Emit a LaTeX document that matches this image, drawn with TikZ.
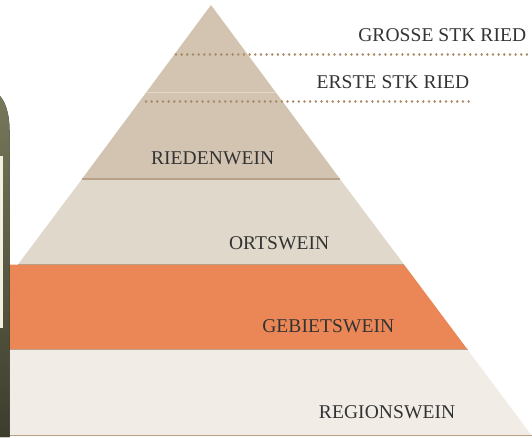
\documentclass[tikz,border=0pt]{standalone}
\usepackage{fontspec}
\setmainfont[LetterSpace=0.5]{Liberation Serif}
\usetikzlibrary{calc}
\definecolor{tierA}{HTML}{D3C4B2}
\definecolor{tierB}{HTML}{E1D8CC}
\definecolor{tierC}{HTML}{EB8757}
\definecolor{tierD}{HTML}{F1EDE6}
\definecolor{edgeC}{HTML}{B8A186}
\definecolor{dotC}{HTML}{A98A64}
\definecolor{txt}{HTML}{333333}
\definecolor{bottleA}{HTML}{77775A}
\definecolor{bottleM}{HTML}{5A5A46}
\definecolor{bottleB}{HTML}{3C3D2D}
\definecolor{labelC}{HTML}{F4F0DF}
\tikzset{
  lbl/.style={text=txt,font=\fontsize{19.5}{22}\selectfont,inner sep=0pt,anchor=base east},
  sep/.style={edgeC,line width=1.2pt},
  dotrow/.style={dotC,line width=2.6pt,line cap=round,dash pattern=on 0.01pt off 5.65pt}
}
\begin{document}
\begin{tikzpicture}[x=1pt,y=-1pt]
\useasboundingbox (0,0) rectangle (532,437);
% pyramid
\fill[tierD] (-20,349.5) -- (467.5,349.5) -- (532,436) -- (-20,436) -- cycle;
\fill[tierC] (-20,264.5) -- (404,264.5) -- (467.5,349.5) -- (-20,349.5) -- cycle;
\fill[tierB] (82,179) -- (340,179) -- (404,264.5) -- (18,264.5) -- cycle;
\fill[tierA] (211,5) -- (340,179) -- (82,179) -- cycle;
\draw[sep] (82,179) -- (340,179);
\draw[sep] (18,264.5) -- (404,264.5);
\draw[sep] (0,349.8) -- (467.5,349.8);
\draw[sep] (0,435.4) -- (532,435.4);
\draw[white,opacity=.35,line width=.6pt] (147,92) -- (275,92);
% bottle
\fill[top color=bottleA,middle color=bottleM,bottom color=bottleB]
  (0,96) .. controls (6,103) and (9.5,115) .. (9.5,130) -- (9.5,437) -- (0,437) -- cycle;
\fill[labelC] (0,156) -- (2.8,156) -- (2.8,328) -- (0,328) -- cycle;
% dotted rules
\coordinate (g1) at (176,54.5);
\coordinate (g2) at (530,54.5);
\coordinate (e1) at (146,101.4);
\coordinate (e2) at (469,101.4);
\draw[dotrow] (g1) -- (g2);
\draw[dotrow] (e1) -- (e2);
% labels
\node[lbl] (grosse) at (526.5,41.7) {GROSSE STK RIED};
\node[lbl] (erste) at (469.5,88.7) {ERSTE STK RIED};
\node[lbl] (ried) at (274.5,164.2) {RIEDENWEIN};
\node[lbl] (orts) at (329.5,249.7) {ORTSWEIN};
\node[lbl] (gebiet) at (394.5,332.7) {GEBIETSWEIN};
\node[lbl] (region) at (455.5,418.2) {REGIONSWEIN};
\end{tikzpicture}
\end{document}
